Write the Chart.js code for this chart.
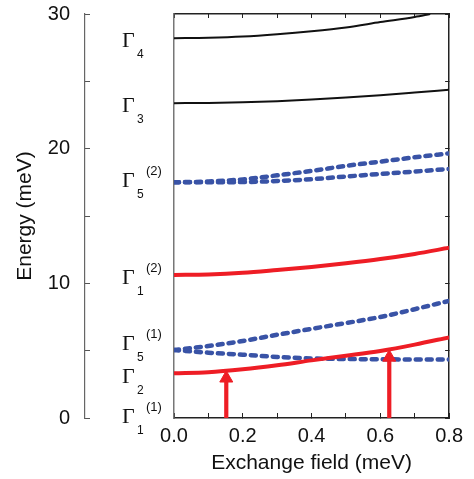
<!DOCTYPE html>
<html>
<head>
<meta charset="utf-8">
<script src="https://cdn.jsdelivr.net/npm/chart.js@4"></script>
<style>
  html, body { margin: 0; padding: 0; background: #fff; }
  #wrap { width: 474px; height: 479px; }
</style>
</head>
<body>
<div id="wrap"><canvas id="levelChart"></canvas></div>
<script>
// exchange field (meV) where the curves were read
const fieldX = [0, 0.1, 0.2, 0.3, 0.4, 0.5, 0.6, 0.7, 0.8];
const fieldX4 = [0, 0.1, 0.2, 0.3, 0.4, 0.5, 0.6, 0.7, 0.745];

// energies (meV)
const gamma4 = [28.2, 28.24, 28.33, 28.5, 28.72, 29.0, 29.4, 29.78, 30.0];
const gamma3 = [23.38, 23.4, 23.45, 23.53, 23.65, 23.8, 23.97, 24.17, 24.38];
const gamma5bUp = [17.5, 17.56, 17.72, 18.02, 18.35, 18.72, 19.04, 19.36, 19.65];
const gamma5bLow = [17.5, 17.5, 17.52, 17.6, 17.73, 17.93, 18.12, 18.3, 18.49];
const gamma1b = [10.62, 10.66, 10.78, 10.99, 11.22, 11.49, 11.8, 12.18, 12.64];
const gamma5aUp = [5.05, 5.35, 5.72, 6.18, 6.62, 7.05, 7.5, 8.08, 8.7];
const gamma5aLow = [5.05, 4.85, 4.7, 4.53, 4.42, 4.38, 4.36, 4.35, 4.35];
const gamma2 = [3.32, 3.4, 3.62, 3.92, 4.28, 4.62, 4.98, 5.45, 5.99];

// transition arrows: field and energy of the arrow head
const arrowX = [0.152, 0.626];
const arrowTop = [2.95, 4.5];

// level names beside the axis
const levelY = [28.1, 23.25, 17.7, 10.5, 5.6, 3.15, 0.15];
const levelSub = ['4', '3', '5', '1', '5', '2', '1'];
const levelSup = ['', '', '(2)', '(2)', '(1)', '', '(1)'];

const RED = '#ee1d25';
const BLUE = '#3953a6';
const BLACK = '#111';

function pts(xs, ys) {
    return xs.map((x, i) => ({ x: x, y: ys[i] }));
}

function solid(data, color, width) {
    return {
        data: data, borderColor: color, borderWidth: width,
        pointRadius: 0, cubicInterpolationMode: 'monotone', borderCapStyle: 'butt'
    };
}

function dashed(data) {
    return {
        data: data, borderColor: BLUE, borderWidth: 4.5, borderDash: [5, 6],
        borderCapStyle: 'round', pointRadius: 0, cubicInterpolationMode: 'monotone'
    };
}

function arrow(i) {
    return {
        data: [{ x: arrowX[i], y: 0 }, { x: arrowX[i], y: arrowTop[i] }],
        borderColor: RED, borderWidth: 4.2,
        pointRadius: [0, 7.5], pointStyle: 'triangle',
        pointBackgroundColor: RED, pointBorderColor: RED, pointBorderWidth: 1
    };
}

// draws the Γ labels between the energy axis and the frame
const levelNames = {
    id: 'levelNames',
    afterDraw(chart) {
        const ctx = chart.ctx;
        const y = chart.scales.y;
        ctx.save();
        ctx.fillStyle = '#111';
        ctx.textAlign = 'left';
        ctx.textBaseline = 'alphabetic';
        levelY.forEach((v, i) => {
            const base = y.getPixelForValue(v) + 7.5;
            ctx.font = '22px "Liberation Serif", "Times New Roman", serif';
            ctx.fillText('Γ', 122, base);
            ctx.font = '12px "Liberation Sans", Arial, sans-serif';
            ctx.fillText(levelSub[i], 137, base + 10.5);
            if (levelSup[i]) {
                ctx.font = '13px "Liberation Sans", Arial, sans-serif';
                ctx.fillText(levelSup[i], 146, base - 12);
            }
        });
        ctx.restore();
    }
};

Chart.defaults.font.family = '"Liberation Sans", Arial, sans-serif';
Chart.defaults.color = '#111';

new Chart(document.getElementById('levelChart'), {
    type: 'line',
    data: {
        datasets: [
            arrow(0),
            arrow(1),
            solid(pts(fieldX, gamma2), RED, 4),
            solid(pts(fieldX, gamma1b), RED, 4),
            dashed(pts(fieldX, gamma5aUp)),
            dashed(pts(fieldX, gamma5aLow)),
            dashed(pts(fieldX, gamma5bUp)),
            dashed(pts(fieldX, gamma5bLow)),
            solid(pts(fieldX, gamma3), BLACK, 2),
            solid(pts(fieldX4, gamma4), BLACK, 2)
        ]
    },
    options: {
        responsive: true,
        maintainAspectRatio: false,
        animation: false,
        layout: { padding: { top: 14, right: 22, bottom: 0, left: 0 } },
        plugins: { legend: { display: false }, tooltip: { enabled: false } },
        scales: {
            x: {
                type: 'linear', position: 'bottom', min: 0, max: 0.8,
                ticks: {
                    stepSize: 0.1, autoSkip: false, maxRotation: 0, padding: 11,
                    font: { size: 20 }, color: '#111',
                    callback: (v, i) => (i % 2 === 0 ? v.toFixed(1) : '')
                },
                grid: { drawOnChartArea: false, tickLength: -5, color: '#222' },
                border: { color: '#222', width: 1.5 },
                title: {
                    display: true, text: 'Exchange field (meV)', color: '#111',
                    font: { size: 21 }, padding: { top: 0, bottom: 3 }
                },
                afterFit: s => { s.height = 61; }
            },
            xTop: {
                type: 'linear', position: 'top', min: 0, max: 0.8,
                ticks: { display: false, stepSize: 0.1, autoSkip: false },
                grid: { drawOnChartArea: false, tickLength: -4, color: '#222' },
                border: { color: '#222', width: 1.5 },
                afterFit: s => { s.height = 0; }
            },
            y: {
                type: 'linear', position: 'left', weight: 1, min: 0, max: 30,
                ticks: {
                    stepSize: 5, autoSkip: false, padding: 20,
                    font: { size: 20 }, color: '#111',
                    callback: v => (v % 10 === 0 ? v : '')
                },
                grid: { drawOnChartArea: false, tickLength: -5, color: '#555' },
                border: { color: '#666', width: 1.2 },
                title: {
                    display: true, text: 'Energy (meV)', color: '#111',
                    font: { size: 21 }, padding: { top: 13, bottom: 0 }
                },
                afterFit: s => { s.width = 85; s.paddingTop = 0; s.paddingBottom = 0; }
            },
            yGap: {
                type: 'linear', position: 'left', weight: 0, min: 0, max: 30,
                ticks: { display: false },
                grid: { display: false },
                border: { display: true, color: '#777', width: 1.5 },
                afterFit: s => { s.width = 89; }
            },
            yRight: {
                type: 'linear', position: 'right', min: 0, max: 30,
                ticks: { display: false, stepSize: 5 },
                grid: { drawOnChartArea: false, tickLength: -4, color: '#222' },
                border: { color: '#222', width: 1.5 },
                afterFit: s => { s.width = 0; }
            }
        }
    },
    plugins: [levelNames]
});
</script>
</body>
</html>
